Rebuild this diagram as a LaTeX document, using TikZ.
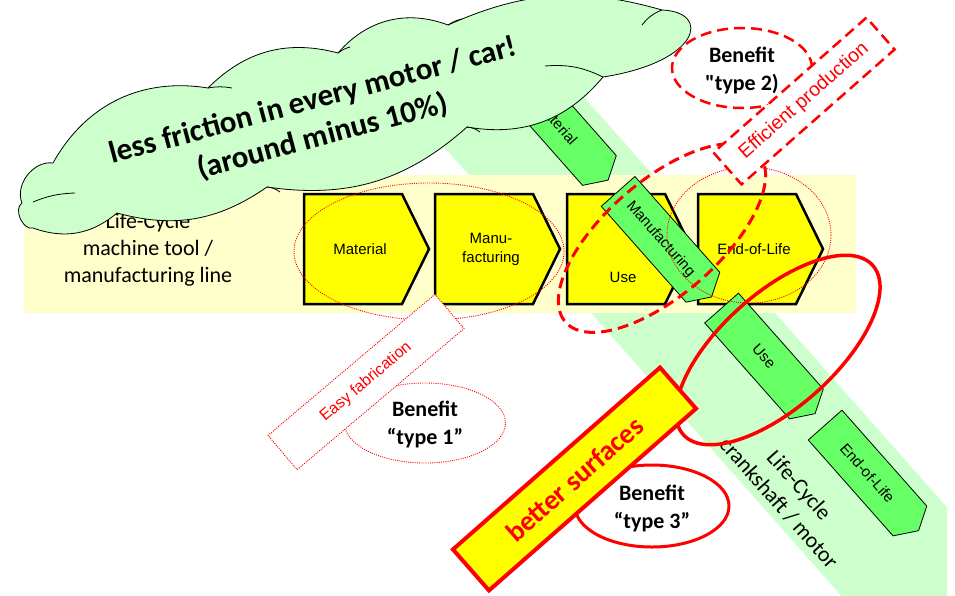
\documentclass[tikz,border=0pt]{standalone}
\usepackage{fontspec}
\setmainfont{Liberation Sans}
\newfontfamily\calibri{Carlito}
\usetikzlibrary{shapes.geometric}

\definecolor{bandgreen}{HTML}{CCFFCC}
\definecolor{bandyellow}{HTML}{FFFFCC}
\definecolor{stepyellow}{HTML}{FFFF00}
\definecolor{stepgreen}{HTML}{66FF66}
\definecolor{hred}{HTML}{FF0000}

\tikzset{
  chevron/.style={fill=stepyellow, draw=black, line width=2.5pt, line join=miter},
  chevtext/.style={font=\fontsize{15}{19}\selectfont, align=center, inner sep=0pt},
  greenarrow/.style={fill=stepgreen, draw=black, line width=0.8pt},
  arrowtext/.style={font=\fontsize{15}{18}\selectfont, inner sep=0pt},
  dotline/.style={draw=hred, line width=0.9pt, dash pattern=on 1pt off 1.2pt},
  dashline/.style={draw=hred, line width=3pt, dash pattern=on 11pt off 6pt},
  benefit/.style={font=\calibri\bfseries\fontsize{22}{28}\selectfont, align=center, inner sep=0pt},
  oval/.style={ellipse, inner sep=0pt, outer sep=0pt},
  box/.style={rectangle, inner sep=0pt, outer sep=0pt},
  cloudline/.style={draw=black, line width=0.8pt},
}

% one step of the horizontal life cycle: name, left edge, text height, label
\newcommand\lcstep[4]{%
  \draw[chevron] (#2,194) -- (#2+98,194) -- (#2+125,249) -- (#2+98,304) -- (#2,304) -- cycle;
  \node[chevtext] (#1) at (#2+56,#3) {#4};}

% one step of the diagonal life cycle: name, centre x, centre y, label
\newcommand\lcpart[4]{%
  \begin{scope}[shift={(#2,#3)}, rotate=-48.5]
    \draw[greenarrow] (-64,-22.5) -- (64,-22.5) -- (77,0) -- (64,22.5) -- (-64,22.5) -- cycle;
  \end{scope}
  \node[arrowtext, rotate=-48.5] (#1) at (#2,#3) {#4};}

\begin{document}
\begin{tikzpicture}[x=1pt, y=-1pt]
\useasboundingbox (0,0) rectangle (955,595);

% diagonal band: crankshaft / motor
\begin{scope}
  \clip (0,0) rectangle (947,595);
  \fill[bandgreen] (430.5,131.5) -- (533.7,40.2) -- (1050.6,624.4) -- (947.4,715.7) -- cycle;
\end{scope}

% horizontal band: machine tool / manufacturing line
\fill[bandyellow] (24,175) rectangle (856,313);
\node[font=\calibri\fontsize{22}{27}\selectfont, align=center, inner sep=0pt] (mtool) at (148,250)
  {Life-Cycle\\machine tool /\\manufacturing line};

\lcstep{smat}{304}{249}{Material}
\lcstep{sman}{435}{249}{Manu-\\facturing}
\lcstep{suse}{567}{277}{Use}
\lcstep{seol}{698}{249}{End-of-Life}

\lcpart{gmat}{557}{122.5}{Material}
\lcpart{gman}{660.5}{239.3}{Manufacturing}
\lcpart{guse}{764}{356}{Use}
\lcpart{geol}{867.5}{473}{End-of-Life}

\node[font=\calibri\fontsize{22}{27}\selectfont, align=center, rotate=-48.5, inner sep=0pt] (crank)
  at (789,494) {Life-Cycle\\crankshaft / motor};

% cloud
\draw[cloudline, fill=bandgreen]
  (33,228) to[bend left=80] (22,203) to[bend left=60] (53,163)
  to[bend left=35] (208,88) to[bend left=30] (338,53) to[bend left=35] (448,25)
  to[bend left=20] (662,10) .. controls (712,12) and (700,62) .. (603,77)
  to[bend left=30] (467,127) to[bend left=25] (267,187) to[bend left=25] (117,213)
  to[bend left=30] (33,228) -- cycle;
\draw[cloudline] (208,88) to[bend left=10] (232,88);
\draw[cloudline] (338,53) to[bend left=10] (350,47);
\draw[cloudline] (448,25) to[bend left=10] (462,19);
\draw[cloudline] (662,10) to[bend right=15] (642,25);
\draw[cloudline] (603,77) to[bend right=15] (545,66);
\draw[cloudline] (467,127) to[bend left=15] (480,132);
\draw[cloudline] (267,187) to[bend left=15] (280,192);
\draw[cloudline] (75,193) to[bend right=10] (33,202);
\node[font=\calibri\bfseries\fontsize{31}{37}\selectfont, align=center, rotate=15, inner sep=0pt]
  (cloudtxt) at (318,119) {less friction in every motor / car!\\(around minus 10\%)};

% dotted rings round the machine tool steps
\node[oval, dotline, minimum width=270, minimum height=137] (ringA) at (429,251.5) {};
\node[oval, dotline, minimum width=164, minimum height=136] (ringB) at (749,235) {};

% benefit type 2
\node[oval, dashline, minimum width=256, minimum height=114, rotate=41] (ringC) at (662,238) {};
\node[oval, dashline, line width=2.5pt, minimum width=140, minimum height=80] (b2) at (742,68) {};
\node[box, dashline, line width=2.5pt, fill=white, minimum width=204, minimum height=42.5,
  rotate=41.4, text=hred, font=\fontsize{19.5}{22}\selectfont] (effprod) at (804,101) {Efficient production};
\node[benefit] (b2txt) at (742,70) {Benefit\\"type 2)};

% benefit type 3 ring round the use phase
\node[oval, draw=hred, line width=3.5pt, minimum width=254, minimum height=114, rotate=41.8] (ringD) at (778,350) {};

% benefit type 1
\node[oval, dotline, minimum width=161, minimum height=80] (b1) at (425,423) {};
\node[box, dotline, fill=white, minimum width=218.6, minimum height=45, rotate=40.2, text=hred,
  font=\fontsize{16}{19}\selectfont] (easyfab) at (366,382) {Easy fabrication};
\node[benefit] (b1txt) at (425,424) {Benefit\\“type 1”};

% benefit type 3
\node[oval, draw=hred, line width=3pt, minimum width=154, minimum height=82] (b3) at (652,506) {};
\node[benefit] (b3txt) at (652,508) {Benefit\\“type 3”};
\node[box, draw=hred, line width=4pt, fill=stepyellow, minimum width=275.6, minimum height=54.6,
  rotate=41.3, text=hred, font=\calibri\bfseries\fontsize{28}{32}\selectfont] (surf) at (574.5,479) {better surfaces};

\end{tikzpicture}
\end{document}
